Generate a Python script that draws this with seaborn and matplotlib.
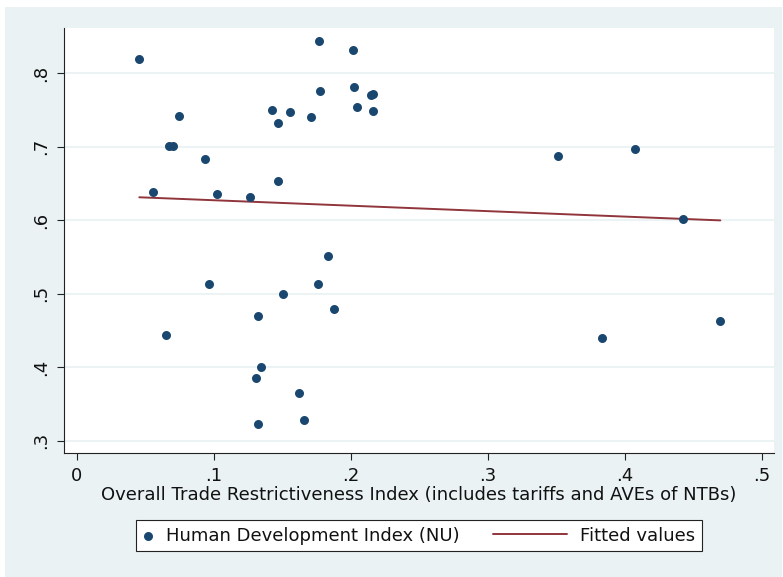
import numpy as np
import pandas as pd
import matplotlib.pyplot as plt
import seaborn as sns
from matplotlib.patches import Rectangle
from matplotlib.lines import Line2D
from matplotlib.legend_handler import HandlerLine2D

# ==========================================
# Data
# ==========================================
trade_index = [0.0457, 0.0557, 0.0676, 0.0705, 0.0745, 0.0939, 0.1026, 0.0966,
               0.0650, 0.1265, 0.1426, 0.1469, 0.1557, 0.1469, 0.1506, 0.1326,
               0.1347, 0.1307, 0.1326, 0.1620, 0.1657, 0.1708, 0.1769, 0.1776,
               0.1759, 0.1836, 0.1876, 0.2015, 0.2026, 0.2046, 0.2146, 0.2165,
               0.2161, 0.3515, 0.4075, 0.4426, 0.3836, 0.4698]
hdi = [0.820, 0.638, 0.701, 0.701, 0.742, 0.684, 0.636, 0.513,
       0.444, 0.632, 0.750, 0.732, 0.747, 0.653, 0.500, 0.470,
       0.400, 0.386, 0.323, 0.365, 0.328, 0.740, 0.844, 0.776,
       0.513, 0.551, 0.479, 0.831, 0.781, 0.754, 0.770, 0.772,
       0.748, 0.688, 0.697, 0.602, 0.440, 0.463]

x_ticks = [0, 0.1, 0.2, 0.3, 0.4, 0.5]
x_tick_labels = ['0', '.1', '.2', '.3', '.4', '.5']
y_ticks = [0.3, 0.4, 0.5, 0.6, 0.7, 0.8]
y_tick_labels = ['.3', '.4', '.5', '.6', '.7', '.8']

x_label = 'Overall Trade Restrictiveness Index (includes tariffs and AVEs of NTBs)'
series_label = 'Human Development Index (NU)'
fit_label = 'Fitted values'

# Stata s2color 风格的颜色
BG = '#EAF2F3'
NAVY = '#1A476F'
MAROON = '#90353B'

sns.set_theme(style="white")
plt.rcParams['font.family'] = ['DejaVu Sans']
# seaborn 的 context 会覆盖各处字号，这里统一设置
for key in ['axes.labelsize', 'xtick.labelsize', 'ytick.labelsize', 'legend.fontsize']:
    plt.rcParams[key] = 13
plt.rcParams['text.color'] = '#111111'
plt.rcParams['axes.labelcolor'] = '#111111'


class LongLine(HandlerLine2D):
    # 图例中的拟合线比散点句柄长，向左延伸
    def create_artists(self, legend, orig_handle, xdescent, ydescent,
                       width, height, fontsize, trans):
        y = (height - ydescent) / 2
        line = Line2D([-xdescent - 5.4 * width, -xdescent + 0.83 * width], [y, y])
        self.update_prop(line, orig_handle, legend)
        line.set_transform(trans)
        return [line]


df = pd.DataFrame({'trade': trade_index, 'hdi': hdi})

# 线性拟合
slope, intercept = np.polyfit(df['trade'], df['hdi'], 1)
fit_df = pd.DataFrame({'trade': [df['trade'].min(), df['trade'].max()]})
fit_df['fitted'] = intercept + slope * fit_df['trade']

fig = plt.figure(figsize=(7.83, 5.77), dpi=100, facecolor='white')
fig.patches.append(Rectangle((5 / 783, 0), 777 / 783, 570 / 577, transform=fig.transFigure,
                             facecolor=BG, edgecolor='none', zorder=-10))
ax = fig.add_axes([64 / 783, 124 / 577, 710.3 / 783, 424.7 / 577])
ax.set_facecolor('white')

sns.scatterplot(data=df, x='trade', y='hdi', ax=ax, color=NAVY, s=42, linewidth=0,
                label=series_label, zorder=3)
sns.lineplot(data=fit_df, x='trade', y='fitted', ax=ax, color=MAROON, lw=1.4,
             label=fit_label, zorder=2)

ax.set_xlim(-0.00927, 0.5092)
ax.set_ylim(0.2833, 0.8612)
ax.set_xticks(x_ticks)
ax.set_xticklabels(x_tick_labels)
ax.set_yticks(y_ticks)
ax.set_yticklabels(y_tick_labels, rotation=90, va='center')
ax.set_xlabel(x_label, labelpad=1)
ax.set_ylabel('')

ax.set_axisbelow(True)
ax.yaxis.grid(True, color=BG, lw=1.3)
ax.xaxis.grid(False)
for s in ['top', 'right']:
    ax.spines[s].set_visible(False)
for s in ['left', 'bottom']:
    ax.spines[s].set_color('#222222')
    ax.spines[s].set_linewidth(0.8)
ax.tick_params(direction='out', length=5, width=0.8, color='#222222', pad=5,
               left=True, bottom=True, labelcolor='#111111')

handles, labels = ax.get_legend_handles_labels()
ax.get_legend().remove()
leg = fig.legend(handles, labels, loc='center', bbox_to_anchor=(0.535, 0.0719), ncol=2,
                 handlelength=0.66, handletextpad=0.64, columnspacing=5.4, borderpad=0.36,
                 scatterpoints=1, frameon=True, fancybox=False, framealpha=1,
                 edgecolor='#222222', handler_map={Line2D: LongLine()})
leg.get_frame().set_linewidth(0.8)

plt.savefig('out.png', dpi=100, facecolor=fig.get_facecolor())
